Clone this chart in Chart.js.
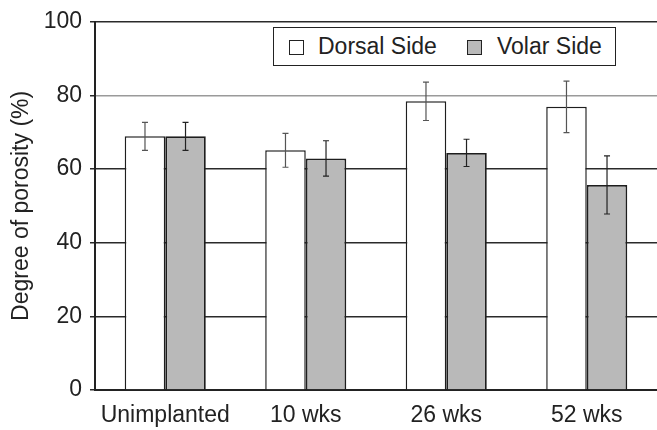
<!DOCTYPE html>
<html>
<head>
<meta charset="utf-8">
<script src="https://cdn.jsdelivr.net/npm/chart.js@4/dist/chart.umd.min.js"></script>
<style>
  body{margin:0;background:#fff}
  .wrap{position:relative;width:657px;height:430px}
  .legend{position:absolute;left:273px;top:27px;width:341px;height:37px;border:1.5px solid #222;background:#fff;font-family:"Liberation Sans",Arial,sans-serif;font-size:23px;color:#222}
  .legend span{position:absolute;top:5px}
  .legend i{position:absolute;top:12px;width:13px;height:13px;border:1.2px solid #222}
</style>
</head>
<body>
<div class="wrap">
  <canvas class="canvas" width="657" height="430"></canvas>
  <div class="legend">
    <i style="left:15px;background:#fff"></i><span style="left:44px">Dorsal Side</span>
    <i style="left:193px;background:#b9b9b9"></i><span style="left:223px">Volar Side</span>
  </div>
</div>
<script>
const labels = ['Unimplanted', '10 wks', '26 wks', '52 wks'];
const dorsal = [68.9, 65.1, 78.4, 76.9];
const dorsalErr = [3.8, 4.6, 5.2, 7.0];
const volar = [68.9, 62.9, 64.4, 55.7];
const volarErr = [3.8, 4.8, 3.7, 7.9];
const yTicks = [0, 20, 40, 60, 80, 100];

const font = {family: '"Liberation Sans", Arial, sans-serif', size: 23};

// error bars drawn on top of the bars
const errorBars = {
  id: 'errorBars',
  afterDatasetsDraw(chart) {
    let ctx = chart.ctx;
    let y = chart.scales.y;
    chart.data.datasets.forEach((ds, i) => {
      let meta = chart.getDatasetMeta(i);
      meta.data.forEach((bar, j) => {
        let v = ds.data[j], e = ds.err[j];
        let top = y.getPixelForValue(v + e);
        let bot = y.getPixelForValue(v - e);
        ctx.save();
        ctx.strokeStyle = ds.errColor;
        ctx.lineWidth = 1.2;
        ctx.beginPath();
        ctx.moveTo(bar.x, top); ctx.lineTo(bar.x, bot);
        ctx.moveTo(bar.x - 3, top); ctx.lineTo(bar.x + 3, top);
        ctx.moveTo(bar.x - 3, bot); ctx.lineTo(bar.x + 3, bot);
        ctx.stroke();
        ctx.restore();
      });
    });
  }
};

const data = {
  labels: labels,
  datasets: [{
    label: 'Dorsal Side',
    data: dorsal,
    err: dorsalErr,
    errColor: '#555',
    backgroundColor: '#ffffff',
    borderColor: '#1e1e1e',
    borderWidth: 1.5
  }, {
    label: 'Volar Side',
    data: volar,
    err: volarErr,
    errColor: '#222',
    backgroundColor: '#b9b9b9',
    borderColor: '#1e1e1e',
    borderWidth: 1.8
  }]
};

const config = {
  type: 'bar',
  data: data,
  options: {
    responsive: false,
    animation: false,
    categoryPercentage: 0.577,
    barPercentage: 1,
    layout: {padding: {top: 16, right: 0, left: 0, bottom: 0}},
    plugins: {
      legend: {display: false},
      tooltip: {enabled: false}
    },
    scales: {
      x: {
        grid: {display: false, drawTicks: false},
        border: {display: true, color: '#222', width: 2},
        ticks: {color: '#222', font: font, padding: 12, maxRotation: 0},
        afterFit(scale) { scale.height = 40; }
      },
      y: {
        min: 0,
        max: 100,
        afterBuildTicks(scale) { scale.ticks = yTicks.map(v => ({value: v})); },
        grid: {
          color: c => c.tick && c.tick.value === 80 ? '#9a9a9a' : '#2a2a2a',
          tickColor: '#2a2a2a',
          lineWidth: 1.5,
          tickLength: 5
        },
        border: {display: true, color: '#222', width: 2},
        ticks: {color: '#222', font: font, padding: 8},
        title: {
          display: true,
          text: 'Degree of porosity (%)',
          color: '#222',
          font: {family: font.family, size: 23},
          padding: {top: 8, bottom: 0}
        },
        afterFit(scale) { scale.width = 95; }
      }
    }
  },
  plugins: [errorBars]
};

let canvas = document.querySelector('.canvas');
new Chart(canvas, config);
</script>
</body>
</html>
